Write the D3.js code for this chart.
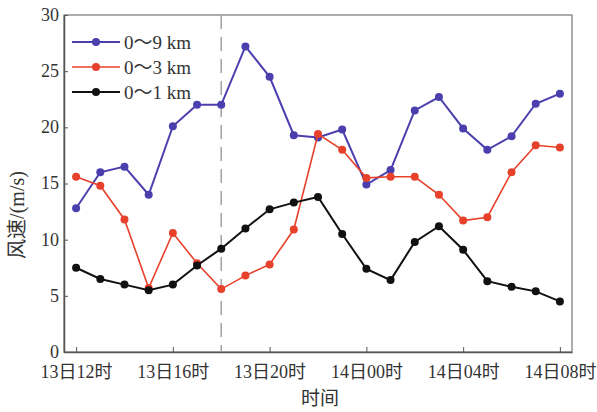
<!DOCTYPE html>
<html>
<head>
<meta charset="utf-8">
<script src="https://cdn.jsdelivr.net/npm/d3@7"></script>
<style>
  body { margin: 0; background: #fff; }
  svg text { font-family: "Liberation Serif", "Noto Sans CJK SC", serif; fill: #333; }
</style>
</head>
<body>
<div id="chart"></div>
<script>
  // hours since 13日00时
  const hours = [12, 13, 14, 15, 16, 17, 18, 19, 20, 21, 22, 23, 24, 25, 26, 27, 28, 29, 30, 31, 32];
  const wind9 = [12.8, 16.0, 16.5, 14.0, 20.1, 22.0, 22.0, 27.2, 24.5, 19.3, 19.1, 19.8, 14.9, 16.2, 21.5, 22.7, 19.9, 18.0, 19.2, 22.1, 23.0];
  const wind3 = [15.6, 14.8, 11.8, 5.7, 10.6, 7.9, 5.6, 6.8, 7.8, 10.9, 19.4, 18.0, 15.5, 15.6, 15.6, 14.0, 11.7, 12.0, 16.0, 18.4, 18.2];
  const wind1 = [7.5, 6.5, 6.0, 5.5, 6.0, 7.7, 9.2, 11.0, 12.7, 13.3, 13.8, 10.5, 7.4, 6.4, 9.8, 11.2, 9.1, 6.3, 5.8, 5.4, 4.5];
  const tickHours = [12, 16, 20, 24, 28, 32];
  const tickLabels = ['13日12时', '13日16时', '13日20时', '14日00时', '14日04时', '14日08时'];
  const markHour = 18;

  const series = [
    { name: '0～9 km', values: wind9, color: '#4b3fae', width: 2 },
    { name: '0～3 km', values: wind3, color: '#e8412b', width: 1.6 },
    { name: '0～1 km', values: wind1, color: '#111', width: 2 }
  ];

  const margin = { top: 15, right: 25, bottom: 60, left: 64 };
  const width = 597 - margin.left - margin.right;
  const height = 412 - margin.top - margin.bottom;

  const svg = d3.select('#chart').append('svg')
    .attr('width', 597)
    .attr('height', 412);

  const g = svg.append('g')
    .attr('transform', 'translate(' + margin.left + ',' + margin.top + ')');

  const x = d3.scaleLinear().domain([11.5, 32.5]).range([0, width]);
  const y = d3.scaleLinear().domain([0, 30]).range([height, 0]);

  // frame
  g.append('rect')
    .attr('width', width)
    .attr('height', height)
    .attr('fill', 'none')
    .attr('stroke', '#777')
    .attr('stroke-width', 1.2);

  // axes, ticks pointing inward
  const xAxis = g.append('g')
    .attr('transform', 'translate(0,' + height + ')')
    .call(d3.axisBottom(x).tickValues(tickHours).tickSizeInner(-5).tickSizeOuter(0)
      .tickFormat((d, i) => tickLabels[i]));
  xAxis.selectAll('text').attr('y', 10).attr('dy', '0.9em').style('font-size', '18px');

  const yAxis = g.append('g')
    .call(d3.axisLeft(y).tickValues([0, 5, 10, 15, 20, 25, 30]).tickSizeInner(-4).tickSizeOuter(0));
  yAxis.selectAll('text').attr('x', -5).attr('dy', '0.3em').style('font-size', '18px');

  [xAxis, yAxis].forEach(ax => {
    ax.select('.domain').attr('stroke', '#555').attr('stroke-width', 1.5);
    ax.selectAll('.tick line').attr('stroke', '#555');
  });

  // dashed marker line
  g.append('line')
    .attr('x1', x(markHour)).attr('x2', x(markHour))
    .attr('y1', 0).attr('y2', height)
    .attr('stroke', '#a8a0a0')
    .attr('stroke-width', 1.5)
    .attr('stroke-dasharray', '14,8');

  const line = d3.line()
    .x((d, i) => x(hours[i]))
    .y(d => y(d));

  series.forEach(s => {
    g.append('path')
      .datum(s.values)
      .attr('fill', 'none')
      .attr('stroke', s.color)
      .attr('stroke-width', s.width)
      .attr('d', line);

    g.selectAll(null)
      .data(s.values)
      .enter()
      .append('circle')
      .attr('cx', (d, i) => x(hours[i]))
      .attr('cy', d => y(d))
      .attr('r', 4)
      .attr('fill', s.color);
  });

  // legend
  const legend = g.append('g').attr('transform', 'translate(8,27)');
  series.forEach((s, i) => {
    const row = legend.append('g').attr('transform', 'translate(0,' + i * 25 + ')');
    row.append('line')
      .attr('x1', 0).attr('x2', 48)
      .attr('stroke', s.color).attr('stroke-width', s.width);
    row.append('circle').attr('cx', 24).attr('r', 4).attr('fill', s.color);
    row.append('text')
      .attr('x', 52).attr('dy', '0.35em')
      .style('font-size', '19px')
      .text(s.name);
  });

  // axis titles
  svg.append('text')
    .attr('x', 320).attr('y', 405)
    .attr('text-anchor', 'middle')
    .style('font-size', '19px')
    .text('时间');

  svg.append('text')
    .attr('transform', 'translate(24,215) rotate(-90)')
    .attr('text-anchor', 'middle')
    .style('font-size', '20px')
    .text('风速/(m/s)');
</script>
</body>
</html>
